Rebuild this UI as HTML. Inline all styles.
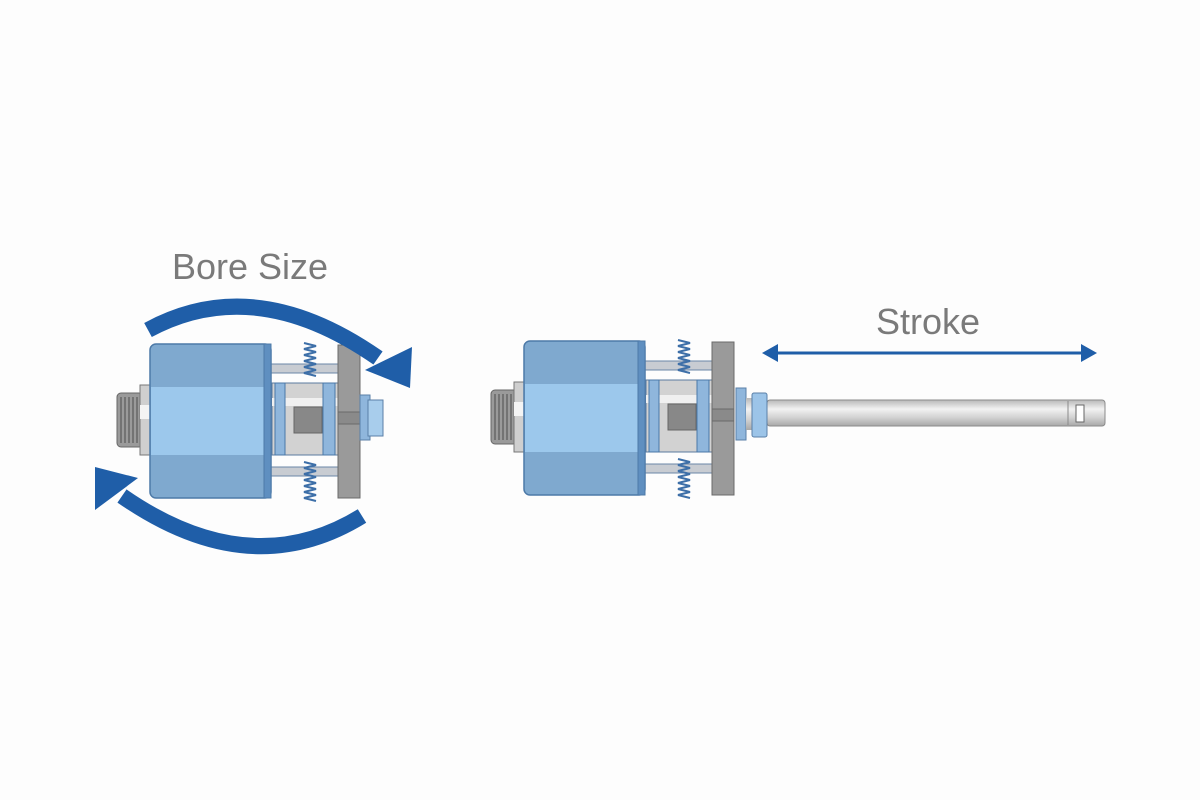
<!DOCTYPE html>
<html><head><meta charset="utf-8"><style>
html,body{margin:0;padding:0;background:#fdfdfd;}
svg{display:block}
text{font-family:"Liberation Sans",sans-serif;fill:#7a7a7a}
</style></head><body>
<svg width="1200" height="800" viewBox="0 0 1200 800" xmlns="http://www.w3.org/2000/svg">
<defs>
<linearGradient id="rod" x1="0" y1="0" x2="0" y2="1">
<stop offset="0" stop-color="#b8b8b8"/><stop offset="0.35" stop-color="#f2f2f2"/><stop offset="0.7" stop-color="#cfcfcf"/><stop offset="1" stop-color="#a8a8a8"/>
</linearGradient>
<g id="cyl">
  <!-- thread -->
  <rect x="117" y="393" width="26" height="54" rx="4" fill="#9a9a9a" stroke="#666" stroke-width="1"/>
  <path d="M121 397 v46 M125 397 v46 M129 397 v46 M133 397 v46 M137 397 v46" stroke="#666" stroke-width="1.5"/>
  <rect x="140" y="385" width="12" height="70" fill="#cfcfcf" stroke="#777"/>
  <rect x="140" y="405" width="12" height="14" fill="#f4f4f4"/>
  <!-- rods -->
  <rect x="268" y="364" width="72" height="9" fill="#c8ccd2" stroke="#6a86a8"/>
  <rect x="268" y="467" width="72" height="9" fill="#c8ccd2" stroke="#6a86a8"/>
  <!-- springs -->
  <path d="M304 343 l12 3 l-12 3 l12 3 l-12 3 l12 3 l-12 3 l12 3 l-12 3 l12 3 l-12 3 l12 3" fill="none" stroke="#3d6fa8" stroke-width="2"/>
  <path d="M304 462 l12 3 l-12 3 l12 3 l-12 3 l12 3 l-12 3 l12 3 l-12 3 l12 3 l-12 3 l12 3 l-12 3 l12 3" fill="none" stroke="#3d6fa8" stroke-width="2"/>
  <!-- inner piston -->
  <rect x="272" y="383" width="66" height="72" fill="#d2d2d2" stroke="#5a7aa0"/>
  <rect x="272" y="398" width="66" height="8" fill="#f0f0f0"/>
  <rect x="275" y="383" width="10" height="72" fill="#8fb6dc" stroke="#4a78a8"/>
  <rect x="323" y="383" width="12" height="72" fill="#8fb6dc" stroke="#4a78a8"/>
  <rect x="294" y="407" width="28" height="26" fill="#888" stroke="#666"/>
  <!-- body -->
  <rect x="150" y="344" width="121" height="154" rx="6" fill="#7fa9cf" stroke="#4d7aa8" stroke-width="1.5"/>
  <rect x="151" y="387" width="119" height="68" fill="#9cc8ec"/>
  <rect x="264" y="344" width="7" height="154" fill="#5f8fc0" stroke="#4d7aa8"/>
  <!-- plate -->
  <rect x="338" y="345" width="22" height="153" fill="#9a9a9a" stroke="#6a6a6a"/>
  <rect x="338" y="412" width="22" height="12" fill="#8a8a8a" stroke="#6a6a6a"/>
</g>
</defs>

<!-- Left cylinder -->
<use href="#cyl"/>
<rect x="360" y="395" width="10" height="45" fill="#8fb6dc" stroke="#5a80a8"/>
<rect x="368" y="400" width="15" height="36" fill="#a8cdec" stroke="#5a80a8"/>

<!-- arrows -->
<path d="M148 330 Q255 272 378 358" fill="none" stroke="#1f5ea8" stroke-width="16"/>
<polygon points="365,370 412,347 410,388" fill="#1f5ea8"/>
<path d="M362 516 Q250 585 122 496" fill="none" stroke="#1f5ea8" stroke-width="16"/>
<polygon points="95,467 138,478 95,510" fill="#1f5ea8"/>
<text x="250" y="279" font-size="36" text-anchor="middle">Bore Size</text>

<!-- Right cylinder -->
<g transform="translate(374,-3)"><use href="#cyl"/></g>
<rect x="736" y="388" width="10" height="52" fill="#8fb6dc" stroke="#5a80a8"/>
<rect x="746" y="398" width="8" height="32" fill="url(#rod)"/>
<rect x="767" y="400" width="338" height="26" rx="3" fill="url(#rod)" stroke="#8a8a8a"/>
<line x1="1068" y1="401" x2="1068" y2="425" stroke="#8a8a8a"/>
<rect x="1076" y="405" width="8" height="17" fill="#fff" stroke="#666"/>
<rect x="752" y="393" width="15" height="44" rx="2" fill="#9cc4e8" stroke="#5a80a8"/>

<line x1="775" y1="353" x2="1083" y2="353" stroke="#1f5ea8" stroke-width="3"/>
<polygon points="762,353 778,344 778,362" fill="#1f5ea8"/>
<polygon points="1097,353 1081,344 1081,362" fill="#1f5ea8"/>
<text x="928" y="334" font-size="36" text-anchor="middle">Stroke</text>
</svg>
</body></html>
